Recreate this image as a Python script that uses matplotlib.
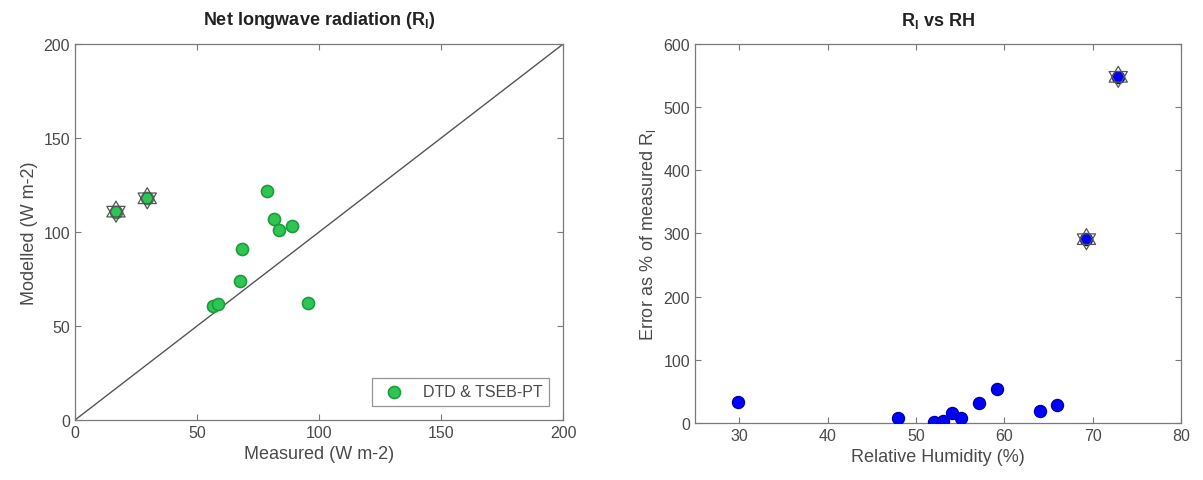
import numpy as np
import matplotlib.pyplot as plt
from matplotlib.path import Path

plt.rcParams['font.family'] = ['Liberation Sans', 'DejaVu Sans']

# left panel: measured vs modelled net longwave
meas = [78.6, 81.6, 83.6, 88.8, 68.3, 67.6, 56.4, 58.7, 95.6, 16.8, 29.6]
model = [122, 107, 101, 103.4, 91, 73.8, 60.8, 61.7, 62.1, 110.8, 117.9]
meas_flag = [16.8, 29.6]
model_flag = [110.8, 117.9]

# right panel: error vs relative humidity
rh = [29.9, 48.0, 52.1, 53.1, 54.1, 55.1, 57.1, 59.2, 64.0, 66.0, 69.3, 72.9]
err = [34, 7.4, 2, 3.7, 15.8, 7.4, 31, 54, 19.5, 29, 291, 548]
rh_flag = [69.3, 72.9]
err_flag = [291, 548]

# hexagram marker (two overlapped triangles)
ang = np.deg2rad(np.arange(4) * 120 + 90)
t1 = np.column_stack([np.cos(ang), np.sin(ang)])
t2 = -t1
hexa = Path(np.vstack([t1, t2]),
            [Path.MOVETO, Path.LINETO, Path.LINETO, Path.CLOSEPOLY] * 2)

axcol = '#7a7a7a'
txtcol = '#4a4a4a'

fig = plt.figure(figsize=(12.03, 4.81), dpi=100)
ax1 = fig.add_axes([0.0623, 0.1247, 0.406, 0.782])
ax2 = fig.add_axes([0.5777, 0.1185, 0.404, 0.788])

for ax in (ax1, ax2):
    for s in ax.spines.values():
        s.set_color(axcol)
        s.set_linewidth(0.9)
    ax.tick_params(direction='in', top=True, right=True, length=4, width=0.8,
                   color=axcol, labelcolor=txtcol, labelsize=11.5)

ax1.plot([0, 200], [0, 200], color='#555555', lw=1)
ax1.scatter(meas, model, s=75, c='#2dc653', edgecolors='#1f9a3c', linewidths=1.2,
            label='DTD & TSEB-PT', zorder=3)
ax1.scatter(meas_flag, model_flag, s=230, marker=hexa, facecolors='none',
            edgecolors='#555555', linewidths=0.9, zorder=4)
ax1.set_xlim(0, 200)
ax1.set_ylim(0, 200)
ax1.set_xticks([0, 50, 100, 150, 200])
ax1.set_yticks([0, 50, 100, 150, 200])
ax1.set_xlabel('Measured (W m-2)', fontsize=13, color=txtcol)
ax1.set_ylabel('Modelled (W m-2)', fontsize=13, color=txtcol)
ax1.set_title('Net longwave radiation (R$_\\mathregular{l}$)', fontsize=13,
              fontweight='bold', color='#222222', pad=14)
leg = ax1.legend(loc='lower right', fontsize=11.5, frameon=True, fancybox=False,
                 edgecolor=axcol, borderaxespad=0.9, handletextpad=0.8)
leg.get_frame().set_linewidth(0.9)
for t in leg.get_texts():
    t.set_color(txtcol)

ax2.scatter(rh, err, s=75, c='#0000ff', edgecolors='#0000aa', linewidths=1, zorder=3)
ax2.scatter(rh_flag, err_flag, s=230, marker=hexa, facecolors='none',
            edgecolors='#555555', linewidths=0.9, zorder=4)
ax2.set_xlim(25, 80)
ax2.set_ylim(0, 600)
ax2.set_xticks([30, 40, 50, 60, 70, 80])
ax2.set_yticks(range(0, 601, 100))
ax2.set_xlabel('Relative Humidity (%)', fontsize=13, color=txtcol)
ax2.set_ylabel('Error as % of measured R$_\\mathregular{l}$', fontsize=13, color=txtcol)
ax2.set_title('R$_\\mathregular{l}$ vs RH', fontsize=13, fontweight='bold',
              color='#222222', pad=14)

fig.savefig('out.png', dpi=100)
